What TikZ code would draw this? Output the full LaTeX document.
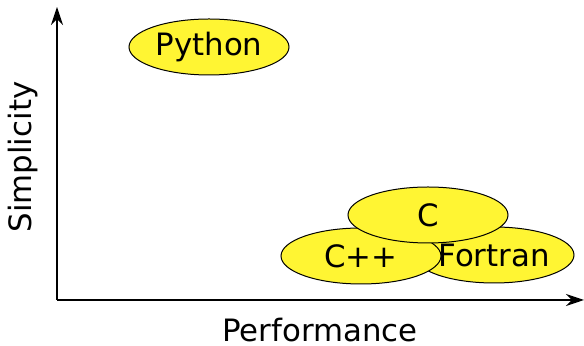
\documentclass[tikz,border=0pt]{standalone}
\usepackage{fontspec}
\setmainfont{DejaVu Sans}
\usetikzlibrary{arrows.meta,shapes.geometric,positioning}

\begin{document}
\begin{tikzpicture}[x=0.5pt, y=-0.5pt, every node/.style={font=\fontsize{15.4}{18}\selectfont},
    lang/.style={ellipse, draw=black, line width=0.5pt, fill=yellow!80!white, inner sep=0pt,
                 minimum width=80pt, minimum height=28pt}]
    \useasboundingbox (0,0) rectangle (584,346);
    % Axes
    \coordinate (origin) at (57,300);
    \coordinate (ytip) at (57,7);
    \coordinate (xtip) at (584,300);
    \draw[-{Stealth[length=9pt,width=6pt]}, line width=0.7pt] (origin) -- (ytip);
    \draw[-{Stealth[length=9pt,width=6pt]}, line width=0.7pt] (origin) -- (xtip);
    % Axis labels
    \node[inner sep=0pt] (perf) at (320,330) {Performance};
    \node[rotate=90] (simp) at (23,157) {Simplicity};
    % Languages
    \node[lang] (python) at (209,47) {Python};
    \node[lang] (fortran) at (494,255) {Fortran};
    \node[lang] (cpp) at (361,256) {C++};
    \node[lang] (c) at (428,215) {C};
\end{tikzpicture}
\end{document}
